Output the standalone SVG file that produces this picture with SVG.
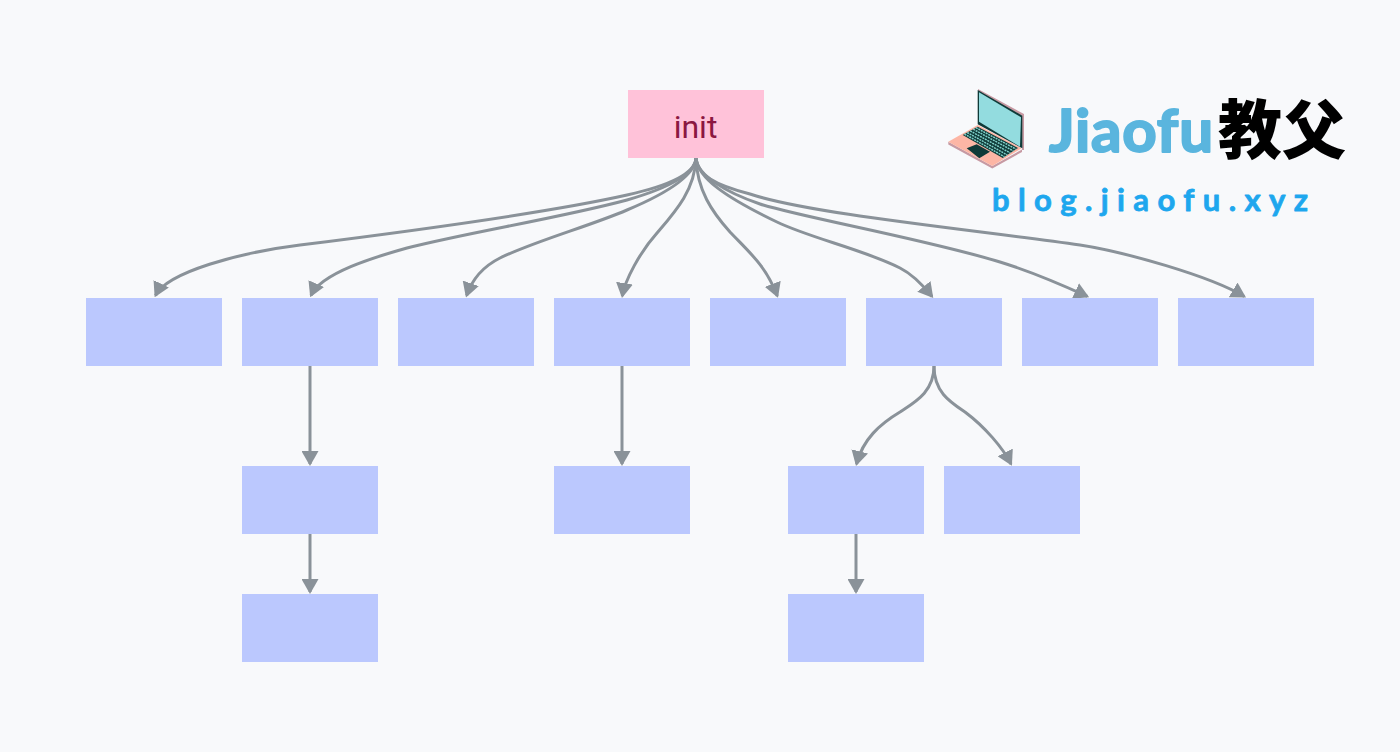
<svg xmlns="http://www.w3.org/2000/svg" width="1400" height="752" viewBox="0 0 1400 752">
<style>
.n{fill:#bbc8fe}
.c{fill:none;stroke:#8a9299;stroke-width:3;marker-end:url(#a)}
.t{font-family:Roboto,"Noto Sans",sans-serif;font-size:32px;fill:#8b1741;text-anchor:middle}
.k{fill:none;stroke:#7fd0c9;stroke-width:1.500;stroke-dasharray:2 .8}
</style>
<defs><marker id="a" markerUnits="userSpaceOnUse" viewBox="0 0 15 17" markerWidth="15" markerHeight="17" refX="13" refY="8.500" orient="auto"><path d="M0,0L15,8.500L0,17z" fill="#8a9299"/></marker></defs>
<rect width="1400" height="752" fill="#f8f9fb"/>
<g id="connectors">
<path class="c" d="M696,158C695,175 667,186 627,195C560,210 420,230 300,245C240,252.500 167,272 155.500,295.500"/>
<path class="c" d="M696,158C695,175 665,189 627,200C560,218 470,232 407,248C375,257 321,273 311,295.500"/>
<path class="c" d="M696,158C695,175 670,192 627,210C590,226 535,241 500,258C485,265.500 472.400,278.500 466.600,295.600"/>
<path class="c" d="M696,158C695,190 675,212 657,233C640,252 625,280 622.300,296"/>
<path class="c" d="M696,158C697,190 712,212 730,232C750,253 766,266 777.300,296"/>
<path class="c" d="M696,158C698,178 725,197 777,222C810,238 865,250 900,268C912,274 922,284 932,296.500"/>
<path class="c" d="M696,158C697,175 725,192 760,204C800,217 925,239 1000,262C1025,269.700 1058,283 1087.300,296.400"/>
<path class="c" d="M696,158C697,175 715,185 750,194C810,214 975,230 1080,245C1125,252 1210,276 1244.300,296.500"/>
<path class="c" d="M310,366V464"/>
<path class="c" d="M310,534V592"/>
<path class="c" d="M622,366V464"/>
<path class="c" d="M856,534V592"/>
<path class="c" d="M934,366C934,392 915,402 900,412C880,424 863,439 856.500,464"/>
<path class="c" d="M934,366C934,392 950,402 965,412C985,427 1003,448 1011,464"/>
</g>
<g id="init"><rect x="628" y="90" width="136" height="68" fill="#ffc2d9"/><text class="t" x="695.500" y="138">init</text></g>
<g id="n1"><rect class="n" x="86" y="298" width="136" height="68"/></g>
<g id="n2"><rect class="n" x="242" y="298" width="136" height="68"/></g>
<g id="n3"><rect class="n" x="398" y="298" width="136" height="68"/></g>
<g id="n4"><rect class="n" x="554" y="298" width="136" height="68"/></g>
<g id="n5"><rect class="n" x="710" y="298" width="136" height="68"/></g>
<g id="n6"><rect class="n" x="866" y="298" width="136" height="68"/></g>
<g id="n7"><rect class="n" x="1022" y="298" width="136" height="68"/></g>
<g id="n8"><rect class="n" x="1178" y="298" width="136" height="68"/></g>
<g id="n9"><rect class="n" x="242" y="466" width="136" height="68"/></g>
<g id="n10"><rect class="n" x="242" y="594" width="136" height="68"/></g>
<g id="n11"><rect class="n" x="554" y="466" width="136" height="68"/></g>
<g id="n12"><rect class="n" x="788" y="466" width="136" height="68"/></g>
<g id="n13"><rect class="n" x="944" y="466" width="136" height="68"/></g>
<g id="n14"><rect class="n" x="788" y="594" width="136" height="68"/></g>
<g id="logo">
<path d="M978,89L1024,114V150L1022,150V116L978,92z" fill="#c79aa3"/>
<path d="M948.300,141.700L992.300,166L1022,149.500V152L992.300,168.500L948.300,144.500z" fill="#c79aa3"/>
<path d="M948.300,141.700L977.700,125L1021.700,148.300L992.300,166z" fill="#fdb6a5"/>
<path d="M977.700,90L1022.300,115.700V148.300L977.700,124.300z" fill="#0f3a38"/>
<path d="M979,92.300L1021,117.300L1020,146.700L979,121.700z" fill="#93dcdf"/>
<path d="M962.700,135L977.700,126.700L1018,148L1002.700,158z" fill="#0f3a38"/>
<path class="k" d="M964.500,134L1004.500,156.800M967.200,132.500L1007.300,155M970.200,130.900L1010.400,153M973.200,129.200L1013.400,151M975.900,127.700L1016.200,149.200"/>
<path d="M966.700,148.300L976.700,144.300L990,151.700L979.300,158.300z" fill="#0f3a38"/>
<text x="1049" y="152" textLength="164" font-family="Lato,'Open Sans',sans-serif" font-weight="700" font-size="60" fill="#5ab5de" stroke="#5ab5de" stroke-width="2" stroke-linejoin="round">Jiaofu</text>
<text x="1218" y="153" font-family="'Noto Sans CJK SC',sans-serif" font-weight="900" font-size="64" fill="#000">教父</text>
<text x="992" y="211" textLength="316" font-family="Lato,'Noto Sans',sans-serif" font-weight="700" font-size="31" fill="#1ea7ee" stroke="#1ea7ee" stroke-width=".8" stroke-linejoin="round">blog.jiaofu.xyz</text>
</g>
</svg>
